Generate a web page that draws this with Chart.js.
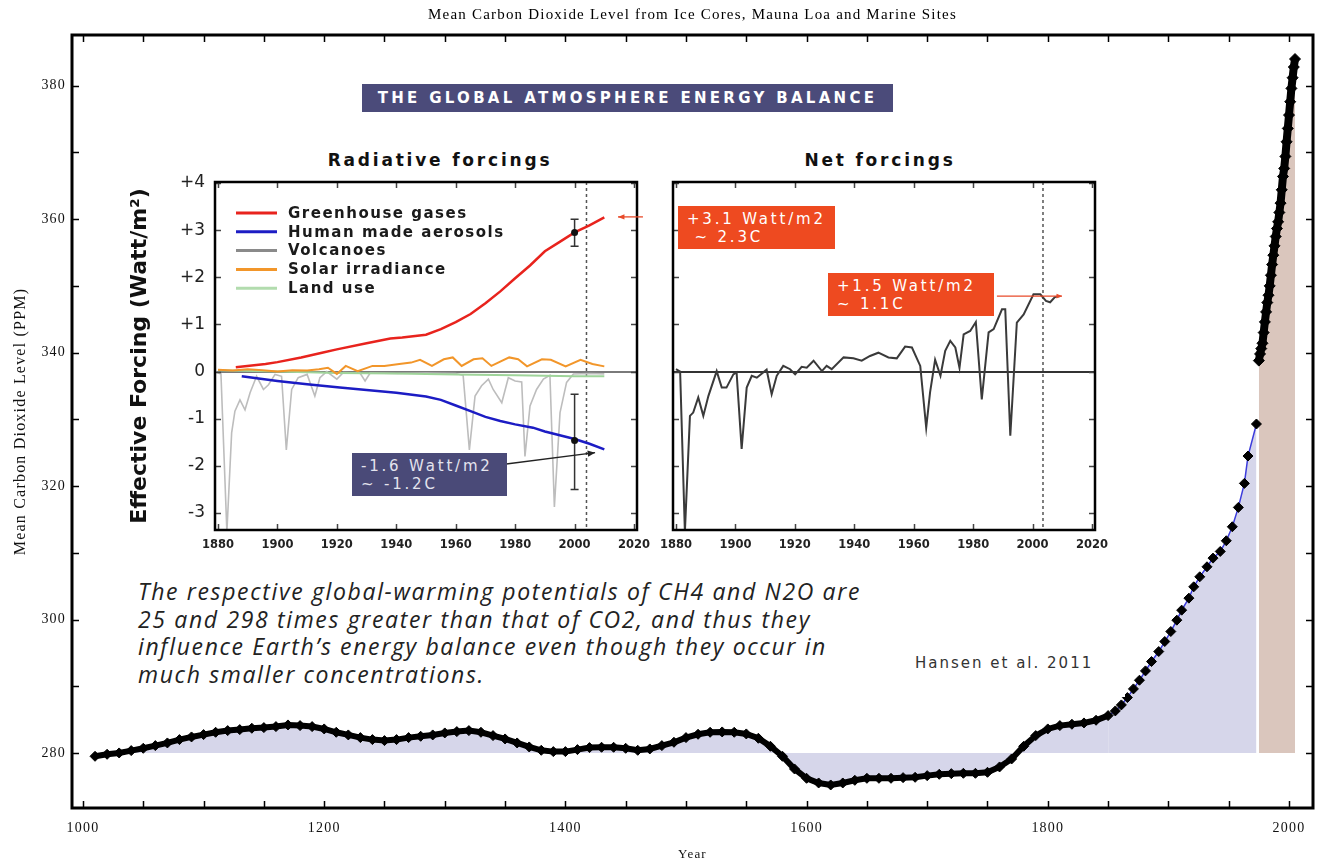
<!DOCTYPE html>
<html>
<head>
<meta charset="utf-8">
<title>Mean Carbon Dioxide Level</title>
<script src="https://cdn.jsdelivr.net/npm/chart.js@4.4.1/dist/chart.umd.min.js"></script>
<style>
  html, body { margin: 0; padding: 0; background: #fff; }
  #page { position: relative; width: 1326px; height: 863px; overflow: hidden; }
  #page canvas { position: absolute; }
  .inset-bg { position: absolute; left: 91px; top: 62px; width: 1034px; height: 635px; background: #fff; }
  .banner { position: absolute; left: 362px; top: 84px; width: 531px; height: 28px; background: #4b4b7a;
            color: #fff; font: bold 15px 'DejaVu Sans'; letter-spacing: 3.3px; line-height: 28px; text-align: center; }
  .panel-title { position: absolute; top: 150px; height: 20px; font: bold 17px 'DejaVu Sans'; letter-spacing: 2.8px;
                 line-height: 20px; text-align: center; color: #111; }
  .callout { position: absolute; height: 43px; box-sizing: border-box; padding: 4px 0 0 9px; font: 15px 'DejaVu Sans';
             letter-spacing: 2.8px; line-height: 18px; color: #fff; white-space: pre; }
  .callout.red { background: #ee4a20; }
  .callout.slate { background: #4a4a78; color: #e4e4ee; }
  .para { position: absolute; left: 138px; top: 578px; font: italic 23px 'Open Sans'; line-height: 27.5px; color: #222; letter-spacing: 1.65px; }
  .credit { position: absolute; left: 915px; top: 654px; font: 15px 'DejaVu Sans'; letter-spacing: 2px; color: #333; }
</style>
</head>
<body>
<div id="page">
  <canvas id="co2Chart" width="1326" height="863" style="left:0;top:0"></canvas>
  <div class="inset-bg"></div>
  <div class="banner">THE GLOBAL ATMOSPHERE ENERGY BALANCE</div>
  <div class="panel-title" style="left:230px;width:420px">Radiative forcings</div>
  <div class="panel-title" style="left:680px;width:400px">Net forcings</div>
  <canvas id="radChart" width="560" height="420" style="left:100px;top:140px"></canvas>
  <canvas id="netChart" width="480" height="420" style="left:650px;top:140px"></canvas>
  <div class="callout red" style="left:678px;top:206px;width:157px">+3.1 Watt/m2
 ~ 2.3C</div>
  <div class="callout red" style="left:828px;top:273px;width:166px">+1.5 Watt/m2
~ 1.1C</div>
  <div class="callout slate" style="left:352px;top:453px;width:155px">-1.6 Watt/m2
~ -1.2C</div>
  <div class="para">The respective global-warming potentials of CH4 and N2O are<br>25 and 298 times greater than that of CO2, and thus they<br>influence Earth’s energy balance even though they occur in<br>much smaller concentrations.</div>
  <div class="credit">Hansen et al. 2011</div>
</div>

<script>
// ---------- main chart: CO2 (ppm) ----------
const iceYears = [1010, 1020, 1030, 1040, 1050, 1060, 1070, 1080, 1090, 1100,
  1110, 1120, 1130, 1140, 1150, 1160, 1170, 1180, 1190, 1200,
  1210, 1220, 1230, 1240, 1250, 1260, 1270, 1280, 1290, 1300,
  1310, 1320, 1330, 1340, 1350, 1360, 1370, 1380, 1390, 1400,
  1410, 1420, 1430, 1440, 1450, 1460, 1470, 1480, 1490, 1500,
  1510, 1520, 1530, 1540, 1550, 1560, 1570, 1580, 1590, 1600,
  1610, 1620, 1630, 1640, 1650, 1660, 1670, 1680, 1690, 1700,
  1710, 1720, 1730, 1740, 1750, 1760, 1770, 1780, 1790, 1800,
  1810, 1820, 1830, 1840, 1850,
  1856, 1861, 1866, 1871, 1876, 1881, 1886, 1892, 1897, 1902,
  1907, 1911, 1917, 1921, 1926, 1932, 1937, 1943, 1948, 1953,
  1958, 1963, 1966, 1973];
const iceCO2 = [279.5, 279.8, 280.0, 280.35, 280.7, 281.1, 281.5, 282.0, 282.4, 282.75,
  283.1, 283.35, 283.5, 283.7, 283.8, 283.95, 284.2, 284.1, 283.95, 283.6,
  283.1, 282.7, 282.3, 282.0, 281.85, 282.0, 282.3, 282.5, 282.7, 283.0,
  283.2, 283.35, 283.1, 282.6, 282.1, 281.5, 280.9, 280.4, 280.2, 280.2,
  280.5, 280.8, 280.85, 280.85, 280.7, 280.4, 280.6, 281.1, 281.6, 282.3,
  282.8, 283.1, 283.15, 283.1, 282.85, 282.2, 281.0, 279.5, 277.6, 276.2,
  275.5, 275.2, 275.5, 275.9, 276.2, 276.2, 276.2, 276.3, 276.35, 276.6,
  276.8, 276.9, 276.95, 276.95, 277.1, 277.9, 279.1, 281.0, 282.6, 283.6,
  284.1, 284.3, 284.5, 284.9, 285.6,
  286.3, 287.2, 288.3, 289.6, 290.9, 292.3, 293.7, 295.2, 296.7, 298.2,
  299.9, 301.4, 303.2, 304.9, 306.4, 307.9, 309.2, 310.2, 311.8, 313.9,
  316.8, 320.4, 324.5, 329.3];
const mloYears = [1975, 1976, 1977, 1978, 1979, 1980, 1981, 1982, 1983, 1984,
  1985, 1986, 1987, 1988, 1989, 1990, 1991, 1992, 1993, 1994,
  1995, 1996, 1997, 1998, 1999, 2000, 2001, 2002, 2003, 2004, 2005];
const mloCO2 = [338.8, 339.8, 340.6, 341.4, 343.0, 344.6, 346.1, 347.5, 348.6, 350.0,
  351.6, 353.2, 354.6, 356.0, 357.4, 358.6, 359.6, 361.0, 362.4, 364.4,
  366.4, 367.6, 369.4, 371.6, 373.6, 375.6, 377.6, 379.6, 381.2, 382.8, 384.0];
const co2YearTicks = [1000, 1200, 1400, 1600, 1800, 2000];
const co2PpmTicks = [280, 300, 320, 340, 360, 380];

// ---------- inset: radiative forcings (W/m2) ----------
const ghgYears = [1886, 1896, 1900, 1908, 1915, 1920, 1930, 1938, 1942, 1950, 1955, 1960, 1965, 1970, 1975, 1980, 1985, 1990, 1995, 2000, 2005, 2010];
const ghgValues = [0.09, 0.16, 0.2, 0.3, 0.4, 0.47, 0.6, 0.7, 0.72, 0.78, 0.9, 1.05, 1.22, 1.45, 1.7, 1.98, 2.25, 2.55, 2.75, 2.95, 3.1, 3.27];
const aerosolYears = [1888, 1900, 1910, 1921, 1930, 1940, 1950, 1955, 1960, 1965, 1970, 1975, 1980, 1986, 1990, 1995, 2000, 2005, 2010];
const aerosolValues = [-0.1, -0.2, -0.27, -0.34, -0.39, -0.45, -0.53, -0.6, -0.72, -0.84, -0.96, -1.05, -1.12, -1.19, -1.27, -1.35, -1.43, -1.53, -1.65];
const volcanoYears = [1879, 1881, 1883, 1884.6, 1885.7, 1887.4, 1889.1, 1890.8, 1893, 1895.3,
  1897, 1899.2, 1901.4, 1903, 1904.8, 1907, 1910, 1912.6, 1914.3, 1916.6,
  1920, 1922.2, 1927.8, 1929.5, 1931.2, 1940, 1950, 1960, 1962.5, 1964.6,
  1966.5, 1968.7, 1971, 1972.6, 1975.5, 1977.7, 1980, 1982.2, 1983.3, 1985,
  1987.2, 1989.5, 1991.7, 1993.2, 1995.1, 1997.3, 1999.6, 2005, 2010];
const volcanoValues = [0, -0.05, -3.4, -1.3, -0.84, -0.6, -0.81, -0.45, -0.1, -0.38,
  -0.28, -0.06, -0.1, -1.66, -0.38, -0.13, -0.06, -0.52, -0.13, 0,
  -0.16, -0.02, -0.03, -0.2, -0.03, -0.04, -0.03, -0.04, -0.08, -1.66,
  -0.52, -0.3, -0.16, -0.38, -0.66, -0.13, -0.2, -0.22, -1.8, -0.73,
  -0.38, -0.16, -0.08, -2.87, -0.87, -0.23, -0.05, -0.04, -0.05];
const solarYears = [1880, 1885, 1890, 1895, 1900, 1905, 1910, 1914, 1917, 1920, 1923, 1927, 1932, 1936, 1941, 1945, 1948, 1952, 1956, 1959,
  1962, 1966, 1969, 1972, 1978, 1981, 1984, 1989, 1992, 1997, 2002, 2006, 2010];
const solarValues = [0.04, 0.02, 0.05, 0.03, 0.0, 0.03, 0.02, 0.05, 0.08, -0.05, 0.12, 0.01, 0.12, 0.12, 0.16, 0.19, 0.25, 0.12, 0.26, 0.3,
  0.12, 0.26, 0.28, 0.12, 0.3, 0.26, 0.11, 0.26, 0.25, 0.11, 0.25, 0.16, 0.11];
const landYears = [1880, 1900, 1920, 1940, 1960, 1980, 2000, 2010];
const landValues = [0.03, 0.0, -0.03, -0.04, -0.06, -0.08, -0.1, -0.1];
const errYears = [2000, 2000];
const errMid = [2.95, -1.46];
const errLow = [2.66, -2.5];
const errHigh = [3.23, -0.48];

// ---------- inset: net forcing (W/m2) ----------
const netYears = [1880, 1881.4, 1883, 1884.7, 1885.8, 1887.5, 1889.2, 1890.9, 1893.7, 1895.4,
  1897, 1899.3, 1900.4, 1902.1, 1903.8, 1905.5, 1907.2, 1910.5, 1912.2, 1913.9,
  1916.1, 1918.4, 1920.1, 1922.3, 1924, 1926.3, 1929.1, 1930.7, 1932.4, 1936.4,
  1939.7, 1942.5, 1945.3, 1948.1, 1951.5, 1954.3, 1957.1, 1959.4, 1962.2, 1964.2,
  1965.5, 1967.2, 1969, 1970.6, 1972.3, 1974, 1975.4, 1976.8, 1979, 1980.9,
  1982.9, 1985.2, 1986.9, 1989.7, 1990.8, 1992.5, 1994.7, 1997, 2000.3, 2002.6,
  2004.5, 2005.9, 2007.5, 2009.3];
const netValues = [0.05, 0.0, -3.4, -0.94, -0.87, -0.55, -0.94, -0.52, 0.01, -0.34,
  -0.34, -0.06, -0.02, -1.64, -0.34, -0.09, -0.13, 0.04, -0.48, -0.09,
  0.12, 0.05, -0.06, 0.1, 0.08, 0.23, 0.01, 0.12, 0.05, 0.3,
  0.28, 0.23, 0.33, 0.4, 0.3, 0.28, 0.53, 0.51, 0.12, -1.19,
  -0.44, 0.25, -0.09, 0.44, 0.65, 0.51, 0.08, 0.79, 0.86, 1.05,
  -0.59, 0.83, 0.9, 1.32, 1.32, -1.36, 1.04, 1.21, 1.64, 1.64,
  1.5, 1.47, 1.58, 1.6];

const forcingYearTicks = [1880, 1900, 1920, 1940, 1960, 1980, 2000, 2020];
const forcingTicks = [-3, -2, -1, 0, 1, 2, 3, 4];
const markerYear = 2004;

const pairs = (xs, ys) => xs.map((x, i) => ({ x, y: ys[i] }));

// frame + inward tick marks on all four sides
const frameTicks = {
  id: 'frameTicks',
  afterDatasetsDraw(chart, args, o) {
    const { ctx, chartArea: a, scales: { x, y } } = chart;
    ctx.save();
    ctx.strokeStyle = o.tickColor;
    ctx.lineWidth = o.tickWidth;
    ctx.beginPath();
    for (let v = o.xFrom; v <= x.max; v += o.xStep) {
      const px = Math.round(x.getPixelForValue(v)) + 0.5;
      ctx.moveTo(px, a.bottom); ctx.lineTo(px, a.bottom - o.len);
      ctx.moveTo(px, a.top); ctx.lineTo(px, a.top + o.len);
    }
    for (let v = o.yFrom; v <= y.max; v += o.yStep) {
      const py = Math.round(y.getPixelForValue(v)) + 0.5;
      ctx.moveTo(a.left, py); ctx.lineTo(a.left + o.len, py);
      ctx.moveTo(a.right, py); ctx.lineTo(a.right - o.len, py);
    }
    ctx.stroke();
    ctx.strokeStyle = '#000';
    ctx.lineWidth = o.frameWidth;
    ctx.strokeRect(a.left, a.top, a.width, a.height);
    ctx.restore();
  }
};

// the old serif labels are drawn wide; spread the letters a little
const spacedText = {
  id: 'spacedText',
  beforeDraw(chart) { chart.ctx.letterSpacing = '1.2px'; }
};

function arrow(ctx, x0, y0, x1, y1, color, head) {
  const ang = Math.atan2(y1 - y0, x1 - x0);
  ctx.strokeStyle = color; ctx.fillStyle = color; ctx.lineWidth = 1.3;
  ctx.beginPath(); ctx.moveTo(x0, y0); ctx.lineTo(x1, y1); ctx.stroke();
  ctx.beginPath();
  ctx.moveTo(x1, y1);
  ctx.lineTo(x1 - head * Math.cos(ang - 0.4), y1 - head * Math.sin(ang - 0.4));
  ctx.lineTo(x1 - head * Math.cos(ang + 0.4), y1 - head * Math.sin(ang + 0.4));
  ctx.closePath(); ctx.fill();
}

function dashedMarker(chart, year) {
  const { ctx, chartArea: a, scales: { x } } = chart;
  const px = x.getPixelForValue(year);
  ctx.save();
  ctx.strokeStyle = '#555'; ctx.lineWidth = 1.5; ctx.setLineDash([3, 3]);
  ctx.beginPath(); ctx.moveTo(px, a.top); ctx.lineTo(px, a.bottom); ctx.stroke();
  ctx.restore();
}

// ---------- main chart ----------
const serif = { family: 'Liberation Serif', size: 14 };
new Chart(document.getElementById('co2Chart'), {
  type: 'line',
  data: {
    datasets: [{
      label: 'Ice cores',
      data: pairs(iceYears, iceCO2),
      borderColor: '#3c3cdc',
      borderWidth: 1.5,
      backgroundColor: '#d6d6ea',
      fill: { value: 280 },
      pointStyle: 'rectRot',
      pointRadius: 5,
      pointBackgroundColor: '#000',
      pointBorderColor: '#000',
      pointBorderWidth: 1,
      segment: {
        borderColor: c => c.p1.parsed.x <= 1850 ? '#000' : '#3c3cdc',
        borderWidth: c => c.p1.parsed.x <= 1850 ? 6 : 1.5
      }
    }, {
      label: 'Mauna Loa and marine sites',
      data: pairs(mloYears, mloCO2),
      borderColor: '#000',
      borderWidth: 8,
      backgroundColor: '#dac6bd',
      fill: { value: 280 },
      pointStyle: 'rectRot',
      pointRadius: 5.5,
      pointBackgroundColor: '#000',
      pointBorderColor: '#000',
      pointBorderWidth: 1
    }]
  },
  options: {
    responsive: false,
    animation: false,
    devicePixelRatio: 1,
    layout: { padding: { right: 13 } },
    plugins: {
      legend: { display: false },
      tooltip: { enabled: false },
      title: {
        display: true, fullSize: false,
        text: 'Mean Carbon Dioxide Level from Ice Cores, Mauna Loa and Marine Sites',
        color: '#000', font: { family: 'Liberation Serif', size: 15, weight: 'normal' },
        padding: { top: 6, bottom: 11 }
      },
      frameTicks: { xFrom: 1000, xStep: 50, yFrom: 280, yStep: 10, len: 7, tickColor: '#000', tickWidth: 1.5, frameWidth: 3 }
    },
    scales: {
      x: {
        type: 'linear', min: 990.9, max: 2019.9,
        afterBuildTicks: s => { s.ticks = co2YearTicks.map(v => ({ value: v })); },
        afterFit: s => { s.height = 55; },
        grid: { display: false, drawTicks: false },
        border: { display: false },
        ticks: { padding: 12, font: serif, color: '#111', maxRotation: 0, callback: v => String(v) },
        title: { display: true, text: 'Year', color: '#111', font: { family: 'Liberation Serif', size: 13 }, padding: { top: 0, bottom: 1 } }
      },
      y: {
        type: 'linear', min: 271.75, max: 387.6,
        afterBuildTicks: s => { s.ticks = co2PpmTicks.map(v => ({ value: v })); },
        afterFit: s => { s.width = 72; },
        grid: { display: false, drawTicks: false },
        border: { display: false },
        ticks: { padding: 6, font: serif, color: '#111', callback: v => String(v) },
        title: { display: true, text: 'Mean Carbon Dioxide Level (PPM)', color: '#111', font: { family: 'Liberation Serif', size: 16 }, padding: { top: 11, bottom: 0 } }
      }
    }
  },
  plugins: [spacedText, frameTicks]
});

// ---------- inset charts ----------
Chart.defaults.font.family = 'DejaVu Sans';
const insetX = {
  type: 'linear', min: 1879, max: 2021,
  afterBuildTicks: s => { s.ticks = forcingYearTicks.map(v => ({ value: v })); },
  afterFit: s => { s.height = 30; },
  grid: { display: false, drawTicks: false },
  border: { display: false },
  ticks: { padding: 8, color: '#222', font: { size: 11.5, weight: 'bold' }, maxRotation: 0, callback: v => String(v) }
};

const legendColors = ['#e8231d', '#1c1cc4', '#8a8a8a', '#f2962a', '#b2dcae'];
const radExtras = {
  id: 'radExtras',
  beforeDatasetsDraw(chart) { dashedMarker(chart, markerYear); },
  afterDraw(chart) {
    const { ctx, chartArea: a, scales: { x, y } } = chart;
    ctx.save();
    // legend
    ctx.font = 'bold 15px "DejaVu Sans"';
    ctx.letterSpacing = '1.5px';
    ctx.textBaseline = 'middle';
    chart.data.datasets.forEach((d, i) => {
      const ly = a.top + 31 + i * 18.8;
      ctx.strokeStyle = legendColors[i]; ctx.lineWidth = 3;
      ctx.beginPath(); ctx.moveTo(a.left + 21, ly); ctx.lineTo(a.left + 62, ly); ctx.stroke();
      ctx.fillStyle = '#1a1a1a';
      ctx.fillText(d.label, a.left + 73, ly + 1);
    });
    // error bars at year 2000
    ctx.strokeStyle = '#333'; ctx.fillStyle = '#111'; ctx.lineWidth = 1.5;
    errYears.forEach((yr, i) => {
      const px = x.getPixelForValue(yr);
      const lo = y.getPixelForValue(errLow[i]), hi = y.getPixelForValue(errHigh[i]);
      ctx.beginPath();
      ctx.moveTo(px, lo); ctx.lineTo(px, hi);
      ctx.moveTo(px - 4, lo); ctx.lineTo(px + 4, lo);
      ctx.moveTo(px - 4, hi); ctx.lineTo(px + 4, hi);
      ctx.stroke();
      ctx.beginPath(); ctx.arc(px, y.getPixelForValue(errMid[i]), 3.5, 0, Math.PI * 2); ctx.fill();
    });
    // callout arrows
    arrow(ctx, x.getPixelForValue(2023), y.getPixelForValue(3.28), x.getPixelForValue(2014.6), y.getPixelForValue(3.28), '#e84a2a', 7);
    arrow(ctx, x.getPixelForValue(1977), y.getPixelForValue(-1.96), x.getPixelForValue(2006.9), y.getPixelForValue(-1.72), '#222', 8);
    ctx.restore();
  }
};

new Chart(document.getElementById('radChart'), {
  type: 'line',
  data: {
    datasets: [
      { label: 'Greenhouse gases', data: pairs(ghgYears, ghgValues), borderColor: '#e8231d', borderWidth: 2.5, order: 1 },
      { label: 'Human made aerosols', data: pairs(aerosolYears, aerosolValues), borderColor: '#1c1cc4', borderWidth: 2.5, order: 2 },
      { label: 'Volcanoes', data: pairs(volcanoYears, volcanoValues), borderColor: '#bdbdbd', borderWidth: 1.6, order: 5 },
      { label: 'Solar irradiance', data: pairs(solarYears, solarValues), borderColor: '#f2962a', borderWidth: 2, order: 3 },
      { label: 'Land use', data: pairs(landYears, landValues), borderColor: '#9fd49a', borderWidth: 2, order: 4 }
    ]
  },
  options: {
    responsive: false,
    animation: false,
    devicePixelRatio: 1,
    elements: { point: { radius: 0 }, line: { tension: 0 } },
    layout: { padding: { top: 42, right: 23 } },
    plugins: {
      legend: { display: false }, tooltip: { enabled: false },
      frameTicks: { xFrom: 1880, xStep: 20, yFrom: -3, yStep: 1, len: 6, tickColor: '#444', tickWidth: 1.5, frameWidth: 2.5 }
    },
    scales: {
      x: insetX,
      y: {
        type: 'linear', min: -3.36, max: 4.02,
        afterBuildTicks: s => { s.ticks = forcingTicks.map(v => ({ value: v })); },
        afterFit: s => { s.width = 115; },
        grid: { drawTicks: false, color: c => c.tick && c.tick.value === 0 ? '#7a7a7a' : 'rgba(0,0,0,0)', lineWidth: 2 },
        border: { display: false },
        ticks: { padding: 10, color: '#222', font: { size: 17 }, callback: v => v > 0 ? '+' + v : String(v) },
        title: { display: true, text: 'Effective Forcing (Watt/m²)', color: '#111', font: { size: 22, weight: 'bold' }, padding: { top: 27, bottom: 0 } }
      }
    }
  },
  plugins: [frameTicks, radExtras]
});

const netExtras = {
  id: 'netExtras',
  beforeDatasetsDraw(chart) { dashedMarker(chart, markerYear - 0.5); },
  afterDraw(chart) {
    const { ctx, scales: { x, y } } = chart;
    ctx.save();
    arrow(ctx, x.getPixelForValue(1988), y.getPixelForValue(1.6), x.getPixelForValue(2009.9), y.getPixelForValue(1.6), '#e84a2a', 6);
    ctx.restore();
  }
};

new Chart(document.getElementById('netChart'), {
  type: 'line',
  data: {
    datasets: [
      { label: 'Net forcing', data: pairs(netYears, netValues), borderColor: '#3a3a3a', borderWidth: 2 }
    ]
  },
  options: {
    responsive: false,
    animation: false,
    devicePixelRatio: 1,
    elements: { point: { radius: 0 }, line: { tension: 0 } },
    layout: { padding: { top: 42, right: 35 } },
    plugins: {
      legend: { display: false }, tooltip: { enabled: false },
      frameTicks: { xFrom: 1880, xStep: 20, yFrom: -3, yStep: 1, len: 6, tickColor: '#444', tickWidth: 1.5, frameWidth: 2.5 }
    },
    scales: {
      x: insetX,
      y: {
        type: 'linear', min: -3.36, max: 4.02,
        afterBuildTicks: s => { s.ticks = forcingTicks.map(v => ({ value: v })); },
        afterFit: s => { s.width = 23; },
        grid: { drawTicks: false, color: c => c.tick && c.tick.value === 0 ? '#333' : 'rgba(0,0,0,0)', lineWidth: 2 },
        border: { display: false },
        ticks: { display: false }
      }
    }
  },
  plugins: [frameTicks, netExtras]
});
</script>
</body>
</html>
